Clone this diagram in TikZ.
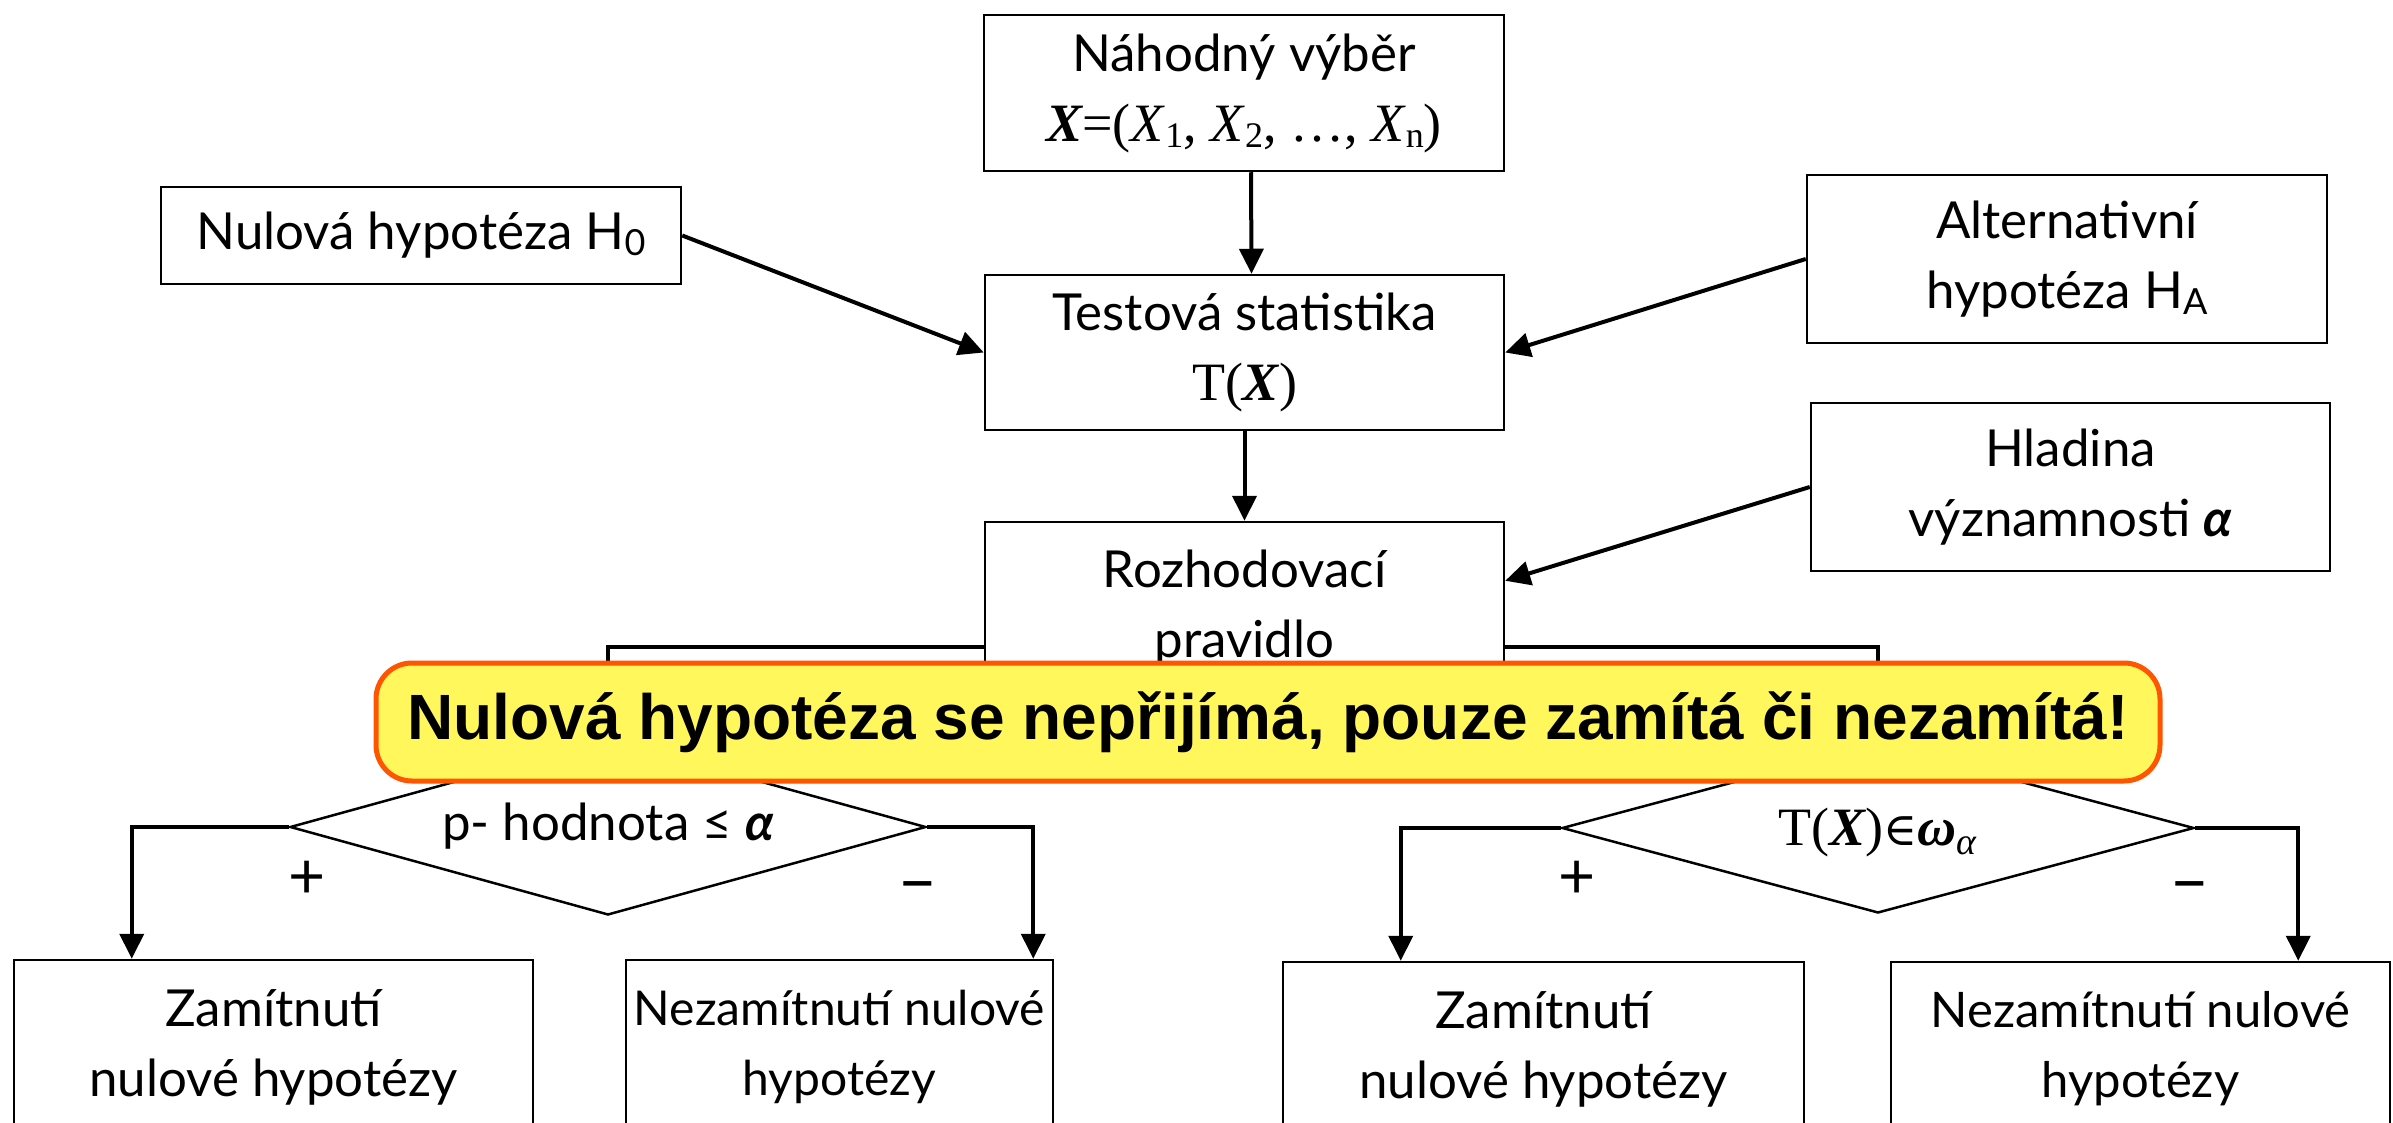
\documentclass[tikz,border=0pt]{standalone}
\usepackage{fontspec}
\setmainfont{Lato}
\newfontfamily\tms{Liberation Serif}
\newfontfamily\dvs{DejaVu Serif}
\newfontfamily\arialf{Liberation Sans}
\usetikzlibrary{shapes.geometric,arrows.meta,calc}
\definecolor{callfill}{HTML}{FFF75C}
\definecolor{callline}{HTML}{FF5500}
\newcommand\mytm{\tms\fontsize{54}{70}\selectfont}
\newcommand\mybX{{\bfseries\itshape X}}
\newcommand\mysub[1]{\raisebox{-6pt}{\fontsize{36}{40}\selectfont #1}}
\begin{document}
\begin{tikzpicture}[x=1pt,y=-1pt,
  box/.style={draw, line width=2.5pt, rectangle, align=center, inner sep=0pt,
    font=\fontsize{51}{70}\selectfont},
  dec/.style={draw, line width=2.5pt, diamond, aspect=3.6, inner sep=0pt,
    font=\fontsize{51}{70}\selectfont},
  arr/.style={line width=4pt, -{Triangle[length=25pt,width=24pt]}},
  brl/.style={line width=4.5pt},
  sign/.style={font=\fontsize{64}{70}\selectfont, inner sep=0pt},
  callout/.style={draw=callline, fill=callfill, line width=5pt, rounded corners=36pt,
    inner sep=0pt, font=\arialf\bfseries\fontsize{64}{70}\selectfont}
]
\useasboundingbox (0,0) rectangle (2393,1123);
\clip (0,0) rectangle (2393,1123);

% boxes
\node[box, minimum width=520, minimum height=156] (sample) at (1244,93)
  {Náhodný výběr\\{\mytm\mybX=(\textit{X}\mysub{1}, \textit{X}\mysub{2}, …, \textit{X}\mysub{n})}};
\node[box, minimum width=519, minimum height=155] (test) at (1244.5,352.5)
  {Testová statistika\\{\mytm T(\mybX)}};
\node[box, minimum width=520, minimum height=97] (h0) at (421,235.5)
  {Nulová hypotéza H\mysub{0}};
\node[box, minimum width=520, minimum height=168] (ha) at (2067,259)
  {Alternativní\\hypotéza H\mysub{A}};
\node[box, minimum width=519, minimum height=168] (alpha) at (2070.5,487)
  {Hladina\\významnosti {\bfseries\itshape α}};
\node[box, minimum width=519, minimum height=172] (rule) at (1244.5,608)
  {Rozhodovací\\pravidlo};

\node[box, minimum width=519, minimum height=174] (rej1) at (273.5,1047)
  {Zamítnutí\\nulové hypotézy};
\node[box, minimum width=427, minimum height=174, font=\fontsize{48}{70}\selectfont] (nrej1) at (839.5,1047)
  {Nezamítnutí nulové\\hypotézy};
\node[box, minimum width=521, minimum height=174] (rej2) at (1543.5,1049)
  {Zamítnutí\\nulové hypotézy};
\node[box, minimum width=499, minimum height=174, font=\fontsize{49}{70}\selectfont] (nrej2) at (2140.5,1049)
  {Nezamítnutí nulové\\hypotézy};

% decisions
\node[dec, minimum width=636, minimum height=176] (d1) at (608,827)
  {\raisebox{0pt}[0pt][0pt]{\raisebox{-13pt}{p- hodnota ≤ {\bfseries\itshape α}}}};
\node[dec, minimum width=632, minimum height=170] (d2) at (1878,828)
  {\raisebox{0pt}[0pt][0pt]{\raisebox{-17pt}{\mytm T(\mybX){\dvs\fontsize{46}{60}\selectfont ∈}{\bfseries\itshape ω}\textsubscript{\itshape α}}}};

\node[sign] (p1) at (307,880) {+};
\node[sign, font=\fontsize{70}{70}\selectfont] (m1) at (918,893) {–};
\node[sign] (p2) at (1577,880) {+};
\node[sign, font=\fontsize{70}{70}\selectfont] (m2) at (2190,893) {–};

% connectors
\draw[arr] ([xshift=7pt]sample.south) -- ([xshift=7pt]test.north);
\draw[arr] (h0.east) -- (test.west);
\draw[arr] (ha.west) -- (test.east);
\draw[arr] (alpha.west) -- ($(rule.north east)+(0,60)$);
\draw[arr] (test.south) -- (rule.north);

\draw[brl] ($(rule.north west)+(0,126)$) -| (d1.north);
\draw[brl] ($(rule.north east)+(0,126)$) -| (d2.north);

\draw[arr] (d1.west) -| ($(rej1.north west)+(119,0)$);
\draw[arr] (d1.east) -| ($(nrej1.north east)+(-21,0)$);
\draw[arr] (d2.west) -| ($(rej2.north west)+(119,0)$);
\draw[arr] (d2.east) -| ($(nrej2.north east)+(-93,0)$);

% callout
\node[callout, minimum width=1784, minimum height=118] (note) at (1268,722)
  {Nulová hypotéza se nepřijímá, pouze zamítá či nezamítá!};
\end{tikzpicture}
\end{document}
